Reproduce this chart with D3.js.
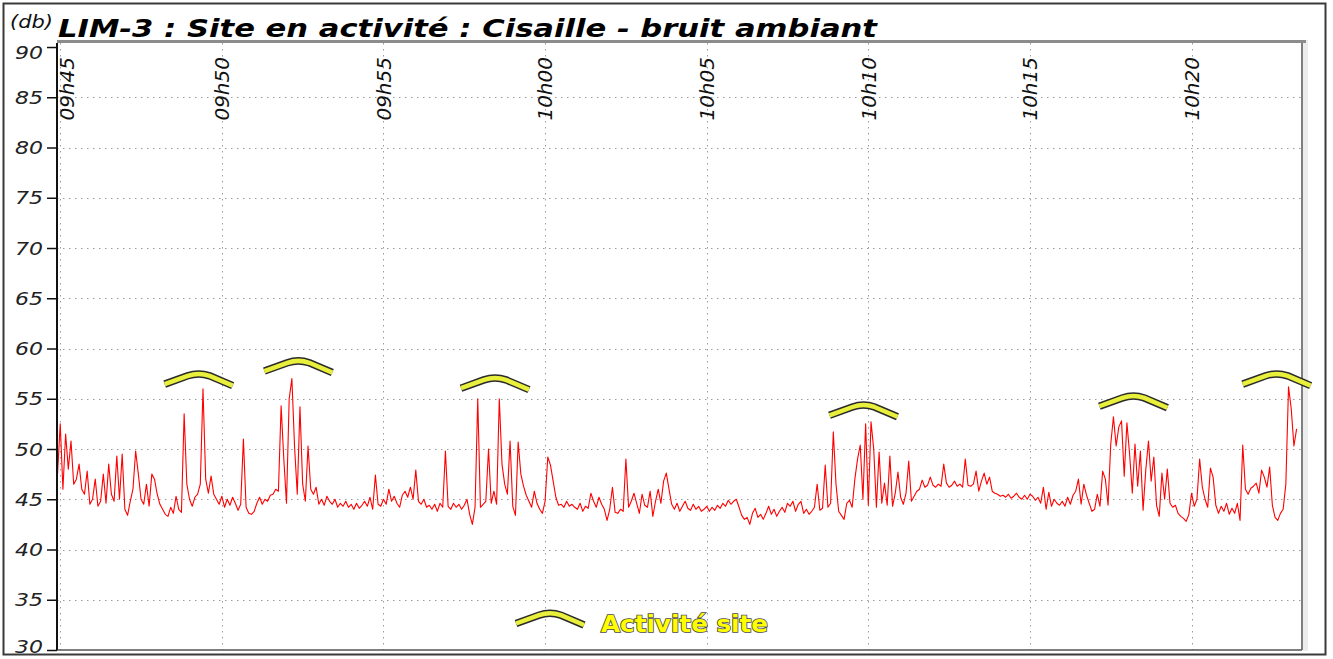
<!DOCTYPE html>
<head>
  <meta charset="utf-8">
  <title>LIM-3 : Site en activité</title>
  <style>
    body { margin: 0; background: #fff; }
    svg { display: block; font-family: "DejaVu Sans", Verdana, sans-serif; }
  </style>
</head>
<body>

<script src="https://d3js.org/d3.v7.min.js"></script>

<script>
// sampling of the sound level series
var startTime = "09:44:55",
    stepSeconds = 5;

// sound level (dB), one row per minute (12 samples of 5 s)
var levels = [
  47.5, 52.5, 46, 51.5, 48, 50.8, 46.5, 47, 48.5, 46, 45.5, 47.8,
  44.5, 45, 47, 44.3, 44.8, 47.5, 44.6, 48.5, 45.5, 44.8, 49.3, 45,
  49.5, 44, 43.4, 44.8, 46, 49.8, 47.5, 45, 44.5, 46.5, 44.3, 47.5,
  47, 45.5, 44.5, 44, 43.5, 43.3, 44.2, 43.6, 45.3, 44, 43.7, 53.5,
  46.5, 45, 44.3, 45.2, 45.5, 46.5, 56, 47, 45.6, 47.3, 45.5, 45,
  44.5, 45.3, 44.2, 45, 44.4, 45.2, 44.6, 43.9, 44.5, 51, 44.2, 43.6,
  43.5, 43.8, 44.6, 45.2, 44.5, 45, 44.8, 45.4, 45.5, 46, 45.8, 54.3,
  49, 44.6, 55, 57, 50.2, 45.5, 54.2, 46.5, 44.8, 50.3, 46, 45.5,
  46.2, 44.5, 45, 44.4, 45.3, 44.8, 44.5, 45, 44.2, 44.6, 44.3, 44.8,
  44.2, 44.5, 44, 44.6, 44.1, 44.4, 44.8, 44.3, 45.2, 44, 47.4, 44.5,
  44.3, 45, 44.5, 46, 44.8, 45.3, 44.6, 44.2, 45.4, 45.8, 45.2, 46.2,
  45, 47.9, 44.8, 44.5, 45, 44.2, 44.4, 44, 44.5, 43.8, 44.6, 44.2,
  49.8, 44.3, 44, 44.6, 44.2, 44.5, 44, 44.4, 45, 43.5, 42.5, 44.2,
  55, 44.2, 44.5, 44.8, 50, 44.6, 45.8, 44.5, 55, 48.5, 46.5, 45.5,
  50.8, 44.3, 43.4, 50.7, 47.5, 46.3, 45.4, 44.8, 44.2, 45.8, 44.6, 44,
  43.6, 44.8, 49.2, 48.4, 46.8, 45.2, 44.4, 44.5, 44.2, 44.8, 44.3, 44.5,
  44.2, 44, 44.6, 43.8, 44.3, 44.1, 45.6, 44.8, 44.2, 45.2, 44.5, 44,
  42.9, 44, 46.2, 43.7, 43.6, 44, 43.8, 49, 44.2, 44.8, 45.6, 44.6,
  43.6, 45.5, 44.4, 44.2, 45.8, 43.3, 44.8, 46, 44.6, 46.8, 47.6, 46,
  44.5, 44, 44.6, 43.8, 44.3, 44.8, 44.1, 43.9, 44.5, 44, 44.3, 43.8,
  44, 44.3, 43.8, 44.2, 43.9, 44.4, 44.1, 44.6, 44.3, 44.9, 44.5, 44.8,
  45, 44.2, 43.4, 43, 43.2, 42.5, 43.6, 44.1, 43.2, 43.5, 43, 43.6,
  44.3, 43.5, 44, 43.3, 43.8, 44.2, 43.7, 44.6, 44.3, 44.8, 43.8, 44.5,
  44.8, 43.6, 44, 43.5, 43.8, 44.2, 46.5, 43.9, 44.1, 48.4, 44.2, 44.6,
  51.7, 46.5, 43.8, 43.4, 43, 44.6, 44.9, 44.2, 47, 49, 50.4, 45,
  52.5, 44.4, 52.7, 50, 44.2, 49.7, 44.6, 46.6, 44.4, 49.3, 44.3, 45.6,
  47.7, 45.2, 44.5, 45.6, 48.8, 44.8, 45.3, 45.8, 46, 46.9, 46.2, 46.4,
  47.2, 46.4, 46.2, 46.5, 46.3, 48.5, 46.6, 46.2, 46.4, 46.8, 46.3, 46.5,
  46.2, 49, 46.4, 46.3, 46.5, 47.8, 45.8, 46.8, 47.6, 46.5, 47.2, 45.8,
  45.6, 45.5, 45.3, 45.4, 45.2, 45.5, 45.1, 45.3, 45.6, 45.2, 45, 45.4,
  45, 45.5, 45.3, 44.9, 45.2, 44.6, 46.2, 44, 45.7, 44.3, 45, 44.6,
  44.4, 44.8, 44.3, 45.2, 44.5, 45.4, 45.8, 47, 44.5, 46.5, 45.4, 44.6,
  43.8, 44, 45.5, 44.3, 47.8, 47, 44.4, 50.5, 53.2, 50.3, 52.2, 52.8,
  47.3, 52.6, 49.5, 45.6, 50.5, 46.3, 49.8, 43.9, 47.9, 50.8, 46.8, 49.2,
  44.4, 43.3, 47.6, 45, 48, 44.6, 44.2, 44.4, 43.6, 43.3, 43.1, 42.8,
  43.5, 45.6, 44.3, 45, 49, 46.2, 45, 44.2, 48.1, 47.2, 44.4, 43.6,
  44.3, 43.8, 44.6, 43.5, 44.1, 43.6, 44.6, 42.9, 50.4, 46, 45.5, 46.1,
  46.3, 46.6, 45.6, 47.9, 47.2, 46.2, 48.2, 44.4, 43.2, 42.9, 43.6, 44,
  46.5, 56.2, 54, 50.3, 52
];

// "Activité site" markers
var markerTimes  = ["09:49:17", "09:52:22", "09:58:27", "10:09:51", "10:18:12", "10:22:38"];
var markerLevels = [57.4, 58.7, 57.0, 54.3, 55.2, 57.4];

// axes
var yTicks = [30, 35, 40, 45, 50, 55, 60, 65, 70, 75, 80, 85, 90];
var xTickTimes  = ["09:45", "09:50", "09:55", "10:00", "10:05", "10:10", "10:15", "10:20"];
var xTickLabels = ["09h45", "09h50", "09h55", "10h00", "10h05", "10h10", "10h15", "10h20"];

var width = 1333, height = 659;
var plot = {left: 57, right: 1302, top: 43, bottom: 650};

var parseSec = d3.timeParse("%H:%M:%S"),
    parseMin = d3.timeParse("%H:%M");

var t0 = parseSec(startTime);
var data = levels.map(function(v, i) {
  return {t: d3.timeSecond.offset(t0, i * stepSeconds), v: v};
});

var x = d3.scaleTime()
    .domain([parseSec("09:44:54"), parseSec("10:23:25")])
    .range([plot.left, plot.right]);

var y = d3.scaleLinear()
    .domain([30, 90.4])
    .range([plot.bottom, plot.top]);

var svg = d3.select("body").append("svg")
    .attr("width", width)
    .attr("height", height);

// outer frame
svg.append("rect")
    .attr("x", 3.5).attr("y", 3.5)
    .attr("width", 1322).attr("height", 651)
    .attr("fill", "#fff")
    .attr("stroke", "#3a3a3a")
    .attr("stroke-width", 2);

// plot frame shadow
svg.append("rect")
    .attr("x", plot.right + 1).attr("y", plot.top - 3)
    .attr("width", 5).attr("height", plot.bottom - plot.top + 4)
    .attr("fill", "#ececec");
svg.append("rect")
    .attr("x", plot.left).attr("y", plot.top - 3)
    .attr("width", plot.right - plot.left + 4).attr("height", 3)
    .attr("fill", "#8c8c8c");
svg.append("line")
    .attr("x1", plot.right).attr("x2", plot.right)
    .attr("y1", plot.top).attr("y2", plot.bottom)
    .attr("stroke", "#555").attr("stroke-width", 1.5);

// grid
var grid = svg.append("g")
    .attr("stroke", "#9a9a9a")
    .attr("stroke-width", 1)
    .attr("stroke-dasharray", "1.5,4.5");

grid.selectAll(".hgrid")
    .data(yTicks.filter(function(d) { return d > 30 && d < 90; }))
  .enter().append("line")
    .attr("x1", plot.left).attr("x2", plot.right)
    .attr("y1", function(d) { return Math.round(y(d)) + 0.5; })
    .attr("y2", function(d) { return Math.round(y(d)) + 0.5; });

grid.selectAll(".vgrid")
    .data(xTickTimes)
  .enter().append("line")
    .attr("x1", function(d) { return Math.round(x(parseMin(d))) + 0.5; })
    .attr("x2", function(d) { return Math.round(x(parseMin(d))) + 0.5; })
    .attr("y1", plot.top).attr("y2", plot.bottom);

// sound level line
var line = d3.line()
    .x(function(d) { return x(d.t); })
    .y(function(d) { return y(d.v); });

svg.append("path")
    .datum(data)
    .attr("fill", "none")
    .attr("stroke", "#ff0000")
    .attr("stroke-width", 1.1)
    .attr("stroke-linejoin", "round")
    .attr("d", line);

// bottom line
svg.append("line")
    .attr("x1", plot.left).attr("x2", plot.right)
    .attr("y1", plot.bottom).attr("y2", plot.bottom)
    .attr("stroke", "#555").attr("stroke-width", 1.5);

// y axis
var yAxis = d3.axisLeft(y)
    .tickValues(yTicks)
    .tickSize(10)
    .tickSizeOuter(0)
    .tickPadding(4)
    .tickFormat(d3.format("d"));

var gy = svg.append("g")
    .attr("transform", "translate(" + plot.left + ",0)")
    .call(yAxis);

gy.select(".domain")
    .attr("d", "M0," + plot.top + "V" + plot.bottom)
    .attr("stroke", "#111")
    .attr("stroke-width", 2);
gy.selectAll(".tick line").attr("stroke", "#111").attr("stroke-width", 1.5);
gy.selectAll(".tick text")
    .attr("fill", "#222")
    .attr("font-family", "DejaVu Sans, Verdana, sans-serif")
    .attr("font-size", 18.5)
    .attr("font-style", "italic")
    .attr("textLength", 28)
    .attr("lengthAdjust", "spacingAndGlyphs")
    .attr("dy", function(d) { return d === 90 ? "0.62em" : d === 30 ? "0.12em" : "0.33em"; });

// x labels (rotated)
svg.selectAll(".xlabel")
    .data(xTickTimes)
  .enter().append("text")
    .attr("transform", function(d, i) {
      var px = x(parseMin(d)) + (i === 0 ? 7 : 0);
      return "translate(" + px + "," + (plot.top + 14) + ") rotate(-90)";
    })
    .attr("dy", "0.36em")
    .attr("text-anchor", "end")
    .attr("font-size", 20)
    .attr("font-style", "italic")
    .attr("fill", "#111")
    .text(function(d, i) { return xTickLabels[i]; });

// activity marker symbol
function marker(g) {
  var d = "M-34,9.5 L-11,1.2 Q0,-2.6 11,1.2 L34,11";
  g.append("path").attr("d", d)
      .attr("fill", "none").attr("stroke", "#2b2b2b").attr("stroke-width", 7.5);
  g.append("path").attr("d", d)
      .attr("fill", "none").attr("stroke", "#e9f03c").attr("stroke-width", 4.5);
}

svg.selectAll(".marker")
    .data(markerTimes)
  .enter().append("g")
    .attr("class", "marker")
    .attr("transform", function(d, i) {
      return "translate(" + x(parseSec(d)) + "," + y(markerLevels[i]) + ")";
    })
    .each(function() { marker(d3.select(this)); });

// legend
var legend = svg.append("g").attr("transform", "translate(550,614)");
marker(legend);
svg.append("text")
    .attr("x", 601).attr("y", 632)
    .attr("font-size", 23)
    .attr("font-weight", "bold")
    .attr("fill", "#ffff00")
    .attr("stroke", "#4a4a4a")
    .attr("stroke-width", 1.6)
    .attr("paint-order", "stroke")
    .attr("textLength", 167)
    .attr("lengthAdjust", "spacingAndGlyphs")
    .text("Activité site");

// titles
svg.append("text")
    .attr("x", 10).attr("y", 28)
    .attr("font-size", 18)
    .attr("font-style", "italic")
    .attr("fill", "#111")
    .attr("textLength", 43)
    .attr("lengthAdjust", "spacingAndGlyphs")
    .text("(db)");

svg.append("text")
    .attr("x", 58).attr("y", 36.5)
    .attr("font-size", 25.5)
    .attr("font-weight", "bold")
    .attr("font-style", "italic")
    .attr("fill", "#000")
    .attr("textLength", 819)
    .attr("lengthAdjust", "spacingAndGlyphs")
    .text("LIM-3 : Site en activité : Cisaille - bruit ambiant");
</script>
</body>
